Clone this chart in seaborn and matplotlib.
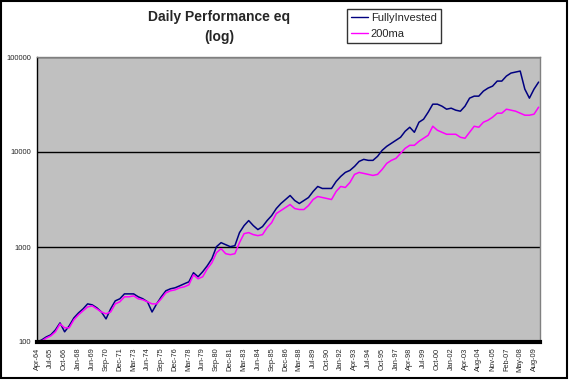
import pandas as pd
import seaborn as sns
import matplotlib.pyplot as plt
from matplotlib.lines import Line2D
from matplotlib.patches import Rectangle
from matplotlib.ticker import FixedLocator, NullLocator

# ---------------------------- data ----------------------------
tick_labels = ['Apr-64', 'Jul-65', 'Oct-66', 'Jan-68', 'Jun-69', 'Sep-70', 'Dec-71', 'Mar-73',
               'Jun-74', 'Sep-75', 'Dec-76', 'Mar-78', 'Jun-79', 'Sep-80', 'Dec-81', 'Mar-83',
               'Jun-84', 'Sep-85', 'Dec-86', 'Mar-88', 'Jul-89', 'Oct-90', 'Jan-92', 'Apr-93',
               'Jul-94', 'Oct-95', 'Jan-97', 'Apr-98', 'Jul-99', 'Oct-00', 'Jan-02', 'Apr-03',
               'Aug-04', 'Nov-05', 'Feb-07', 'May-08', 'Aug-09']
points_per_label = 3

fully_invested = [100, 105, 113, 119, 134, 159, 128, 148, 179, 202,
                  223, 252, 246, 229, 207, 175, 223, 271, 285, 321,
                  321, 321, 299, 285, 265, 207, 252, 299, 346, 363,
                  372, 390, 410, 430, 536, 486, 549, 635, 753, 1008,
                  1111, 1058, 1008, 1033, 1417, 1680, 1897, 1680, 1525, 1640,
                  1897, 2143, 2540, 2869, 3161, 3485, 3085, 2869, 3085, 3320,
                  3842, 4338, 4132, 4132, 4132, 4898, 5534, 6098, 6403, 7054,
                  7966, 8365, 8164, 8164, 9000, 10410, 11475, 12347, 13284, 14290,
                  16530, 18220, 16130, 20580, 22130, 26240, 31870, 31870, 30360, 28220,
                  28920, 27550, 26880, 30360, 36880, 38720, 38720, 43740, 47040, 49390,
                  55780, 55780, 62990, 67760, 69420, 71120, 45920, 36880, 45920, 54440]

ma200 = [100, 102, 110, 116, 128, 155, 141, 141, 171, 193,
         213, 234, 240, 223, 207, 198, 207, 252, 265, 299,
         299, 306, 285, 278, 265, 252, 252, 285, 329, 346,
         354, 372, 381, 400, 510, 463, 486, 590, 683, 871,
         960, 850, 830, 850, 1111, 1383, 1417, 1350, 1317, 1350,
         1600, 1807, 2250, 2420, 2603, 2800, 2540, 2480, 2480, 2733,
         3161, 3401, 3320, 3240, 3161, 3842, 4338, 4234, 4781, 5808,
         6098, 5951, 5808, 5668, 5808, 6558, 7592, 8164, 8570, 9678,
         10930, 11760, 11760, 12960, 13950, 15000, 18670, 16940, 16130, 15370,
         15370, 15370, 14290, 13950, 16130, 18670, 18220, 20580, 21600, 23240,
         25620, 25620, 28220, 27550, 26880, 25620, 24400, 24400, 25000, 29630]

y_ticks = [100, 1000, 10000, 100000]
colors = {'FullyInvested': '#000080', '200ma': '#FF00FF'}

df = pd.DataFrame({'day': range(len(fully_invested)),
                   'FullyInvested': fully_invested,
                   '200ma': ma200})
long_df = df.melt(id_vars='day', var_name='series', value_name='equity')

# ---------------------------- figure ----------------------------
sns.set_style('white')
plt.rcParams['font.family'] = ['Liberation Sans', 'DejaVu Sans']

fig = plt.figure(figsize=(5.69, 3.80), dpi=100)
ax = fig.add_axes([37 / 569, 38 / 380, 503 / 569, 285 / 380])
ax.set_facecolor('#C0C0C0')

sns.lineplot(data=long_df, x='day', y='equity', hue='series', palette=colors,
             linewidth=1.1, ax=ax, legend=False)

ax.set_yscale('log')
ax.set_ylim(y_ticks[0], y_ticks[-1])
ax.yaxis.set_major_locator(FixedLocator(y_ticks))
ax.yaxis.set_minor_locator(NullLocator())
ax.set_yticklabels([str(v) for v in y_ticks], fontsize=5.5)
ax.yaxis.grid(True, color='black', linewidth=1)
ax.set_axisbelow(True)

ax.set_xlim(0, len(fully_invested) - 0.7)
ax.set_xticks(range(0, len(tick_labels) * points_per_label, points_per_label))
ax.set_xticklabels(tick_labels, rotation=90, fontsize=5.3)
ax.set_xlabel('')
ax.set_ylabel('')
ax.tick_params(axis='both', direction='out', length=3, width=0.8, color='black', pad=1)

for side in ['top', 'right']:
    ax.spines[side].set_color('#808080')
    ax.spines[side].set_linewidth(1)
ax.spines['left'].set_color('black')
ax.spines['left'].set_linewidth(1)
ax.spines['bottom'].set_color('black')
ax.spines['bottom'].set_linewidth(3)

fig.text(219 / 569, 1 - 27 / 380, 'Daily Performance eq\n(log)', ha='center', va='center',
         fontsize=10, fontweight='bold', linespacing=1.55)

handles = [Line2D([], [], color=colors[name], linewidth=1) for name in colors]
leg = fig.legend(handles, list(colors), loc='upper left', bbox_to_anchor=(347 / 569, 1 - 9 / 380),
                 fontsize=8, frameon=True, fancybox=False, edgecolor='black',
                 handlelength=1.5, handletextpad=0.3, labelspacing=0.55, borderpad=0.35,
                 borderaxespad=0)
leg.get_frame().set_linewidth(1)

fig.patches.append(Rectangle((1 / 569, 2 / 380), 566 / 569, 377 / 380, transform=fig.transFigure,
                             fill=False, edgecolor='black', linewidth=1.5))

fig.savefig('out.png', dpi=100)
